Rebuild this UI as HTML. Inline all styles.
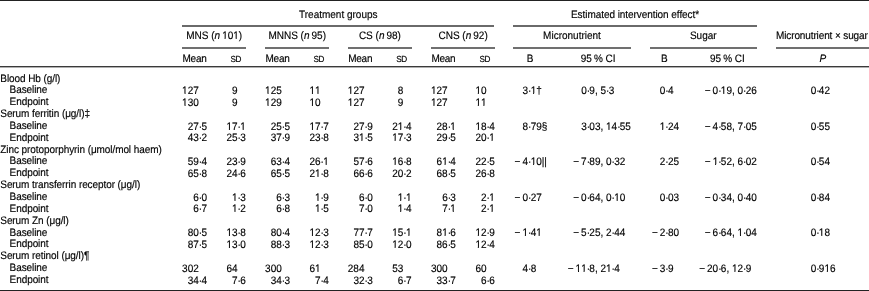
<!DOCTYPE html>
<html><head><meta charset="utf-8">
<style>
html,body{margin:0;padding:0;background:#fff;}
body{width:869px;height:291px;position:relative;overflow:hidden;}
.t{position:absolute;font-family:"Liberation Sans",sans-serif;font-size:10.0px;line-height:12px;color:#000;white-space:nowrap;text-rendering:geometricPrecision;-webkit-text-stroke:0.15px #000;}
.r{position:absolute;}
#c{position:absolute;left:0;top:0;width:869px;height:291px;will-change:transform;}
i{font-style:italic;}
.d{letter-spacing:-0.7px;}
.o{display:inline-block;clip-path:polygon(0 0,100% 0,100% 7.20px,3.45px 7.20px,3.45px 100%,2.45px 100%,2.45px 7.20px,0 7.20px);}
</style></head><body>
<div id="c">
<div class="r" style="left:0px;width:869px;top:0px;height:1px;background:#222"></div>
<div class="r" style="left:182px;width:312px;top:25px;height:2px;background:#6a6a6a"></div>
<div class="r" style="left:513px;width:244px;top:25px;height:2px;background:#6a6a6a"></div>
<div class="r" style="left:182px;width:64px;top:47px;height:2px;background:#707070"></div>
<div class="r" style="left:265px;width:64px;top:47px;height:2px;background:#707070"></div>
<div class="r" style="left:348px;width:64px;top:47px;height:2px;background:#707070"></div>
<div class="r" style="left:431px;width:64px;top:47px;height:2px;background:#707070"></div>
<div class="r" style="left:513px;width:118px;top:47px;height:2px;background:#707070"></div>
<div class="r" style="left:650px;width:107px;top:47px;height:2px;background:#707070"></div>
<div class="r" style="left:776px;width:93px;top:47px;height:2px;background:#707070"></div>
<div class="r" style="left:0px;width:869px;top:66px;height:1px;background:#3a3a3a"></div>
<div class="r" style="left:0px;width:869px;top:67px;height:1px;background:#b0b0b0"></div>
<div class="r" style="left:0px;width:869px;top:290px;height:1px;background:#222"></div>
<div class="t" style="left:299.00px;top:9.54px;transform:scaleY(1.08);transform-origin:0 9.46px;">Treatment groups</div>
<div class="t" style="left:571.00px;top:9.54px;transform:scaleY(1.08);transform-origin:0 9.46px;letter-spacing:-0.06px;">Estimated intervention effect*</div>
<div class="t" style="left:114.20px;width:200px;text-align:center;top:31.14px;transform:scaleY(1.08);transform-origin:0 9.46px;">MNS (<i>n</i> <span class="o">1</span>0<span class="o">1</span>)</div>
<div class="t" style="left:182.50px;top:53.53px;transform:scaleY(1.08);transform-origin:0 9.46px;letter-spacing:-0.25px;">Mean</div>
<div class="t" style="left:230.60px;top:54.06px;font-size:8.20px;transform:scaleY(1.08);transform-origin:0 8.84px;letter-spacing:-0.45px;">SD</div>
<div class="t" style="left:197.20px;width:200px;text-align:center;top:31.14px;transform:scaleY(1.08);transform-origin:0 9.46px;">MNNS (<i>n</i> 95)</div>
<div class="t" style="left:265.50px;top:53.53px;transform:scaleY(1.08);transform-origin:0 9.46px;letter-spacing:-0.25px;">Mean</div>
<div class="t" style="left:313.60px;top:54.06px;font-size:8.20px;transform:scaleY(1.08);transform-origin:0 8.84px;letter-spacing:-0.45px;">SD</div>
<div class="t" style="left:279.90px;width:200px;text-align:center;top:31.14px;transform:scaleY(1.08);transform-origin:0 9.46px;">CS (<i>n</i> 98)</div>
<div class="t" style="left:348.20px;top:53.53px;transform:scaleY(1.08);transform-origin:0 9.46px;letter-spacing:-0.25px;">Mean</div>
<div class="t" style="left:396.30px;top:54.06px;font-size:8.20px;transform:scaleY(1.08);transform-origin:0 8.84px;letter-spacing:-0.45px;">SD</div>
<div class="t" style="left:363.10px;width:200px;text-align:center;top:31.14px;transform:scaleY(1.08);transform-origin:0 9.46px;">CNS (<i>n</i> 92)</div>
<div class="t" style="left:431.40px;top:53.53px;transform:scaleY(1.08);transform-origin:0 9.46px;letter-spacing:-0.25px;">Mean</div>
<div class="t" style="left:479.50px;top:54.06px;font-size:8.20px;transform:scaleY(1.08);transform-origin:0 8.84px;letter-spacing:-0.45px;">SD</div>
<div class="t" style="left:472.00px;width:200px;text-align:center;top:31.14px;transform:scaleY(1.08);transform-origin:0 9.46px;">Micronutrient</div>
<div class="t" style="left:603.30px;width:200px;text-align:center;top:31.14px;transform:scaleY(1.08);transform-origin:0 9.46px;">Sugar</div>
<div class="t" style="left:776.00px;top:31.14px;transform:scaleY(1.08);transform-origin:0 9.46px;letter-spacing:-0.12px;">Micronutrient × sugar</div>
<div class="t" style="left:526.80px;top:53.53px;transform:scaleY(1.08);transform-origin:0 9.46px;">B</div>
<div class="t" style="left:580.80px;top:53.53px;transform:scaleY(1.08);transform-origin:0 9.46px;">95 % CI</div>
<div class="t" style="left:661.00px;top:53.53px;transform:scaleY(1.08);transform-origin:0 9.46px;">B</div>
<div class="t" style="left:710.00px;top:53.53px;transform:scaleY(1.08);transform-origin:0 9.46px;">95 % CI</div>
<div class="t" style="left:819.50px;top:53.53px;transform:scaleY(1.08);transform-origin:0 9.46px;"><i>P</i></div>
<div class="t" style="left:0.30px;top:73.53px;transform:scaleY(1.08);transform-origin:0 9.46px;letter-spacing:-0.08px;">Blood Hb (g/l)</div>
<div class="t" style="left:9.60px;top:85.38px;transform:scaleY(1.08);transform-origin:0 9.46px;letter-spacing:-0.08px;">Baseline</div>
<div class="t" style="left:138.80px;width:60px;text-align:right;top:85.98px;transform:scaleY(1.08);transform-origin:0 9.46px;"><span class="o">1</span>27</div>
<div class="t" style="left:177.60px;width:60px;text-align:right;top:85.98px;transform:scaleY(1.08);transform-origin:0 9.46px;">9</div>
<div class="t" style="left:221.80px;width:60px;text-align:right;top:85.98px;transform:scaleY(1.08);transform-origin:0 9.46px;"><span class="o">1</span>25</div>
<div class="t" style="left:260.60px;width:60px;text-align:right;top:85.98px;transform:scaleY(1.08);transform-origin:0 9.46px;"><span class="o">1</span><span class="o">1</span></div>
<div class="t" style="left:304.50px;width:60px;text-align:right;top:85.98px;transform:scaleY(1.08);transform-origin:0 9.46px;"><span class="o">1</span>27</div>
<div class="t" style="left:343.30px;width:60px;text-align:right;top:85.98px;transform:scaleY(1.08);transform-origin:0 9.46px;">8</div>
<div class="t" style="left:387.70px;width:60px;text-align:right;top:85.98px;transform:scaleY(1.08);transform-origin:0 9.46px;"><span class="o">1</span>27</div>
<div class="t" style="left:426.50px;width:60px;text-align:right;top:85.98px;transform:scaleY(1.08);transform-origin:0 9.46px;"><span class="o">1</span>0</div>
<div class="t" style="left:468.00px;width:60px;text-align:right;top:85.98px;transform:scaleY(1.08);transform-origin:0 9.46px;">3</div>
<div class="t" style="left:528.00px;top:85.98px;transform:scaleY(1.08);transform-origin:0 9.46px;"><span class="d">·</span><span class="o">1</span>†</div>
<div class="t" style="left:526.70px;width:60px;text-align:right;top:85.98px;transform:scaleY(1.08);transform-origin:0 9.46px;">0</div>
<div class="t" style="left:586.70px;top:85.98px;transform:scaleY(1.08);transform-origin:0 9.46px;"><span class="d">·</span>9, 5<span class="d">·</span>3</div>
<div class="t" style="left:605.30px;width:60px;text-align:right;top:85.98px;transform:scaleY(1.08);transform-origin:0 9.46px;">0</div>
<div class="t" style="left:665.30px;top:85.98px;transform:scaleY(1.08);transform-origin:0 9.46px;"><span class="d">·</span>4</div>
<div class="t" style="left:658.20px;width:60px;text-align:right;top:85.98px;transform:scaleY(1.08);transform-origin:0 9.46px;">− 0</div>
<div class="t" style="left:718.20px;top:85.98px;transform:scaleY(1.08);transform-origin:0 9.46px;"><span class="d">·</span><span class="o">1</span>9, 0<span class="d">·</span>26</div>
<div class="t" style="left:756.20px;width:60px;text-align:right;top:85.98px;transform:scaleY(1.08);transform-origin:0 9.46px;">0</div>
<div class="t" style="left:816.20px;top:85.98px;transform:scaleY(1.08);transform-origin:0 9.46px;"><span class="d">·</span>42</div>
<div class="t" style="left:9.60px;top:97.23px;transform:scaleY(1.08);transform-origin:0 9.46px;letter-spacing:-0.08px;">Endpoint</div>
<div class="t" style="left:138.80px;width:60px;text-align:right;top:97.83px;transform:scaleY(1.08);transform-origin:0 9.46px;"><span class="o">1</span>30</div>
<div class="t" style="left:177.60px;width:60px;text-align:right;top:97.83px;transform:scaleY(1.08);transform-origin:0 9.46px;">9</div>
<div class="t" style="left:221.80px;width:60px;text-align:right;top:97.83px;transform:scaleY(1.08);transform-origin:0 9.46px;"><span class="o">1</span>29</div>
<div class="t" style="left:260.60px;width:60px;text-align:right;top:97.83px;transform:scaleY(1.08);transform-origin:0 9.46px;"><span class="o">1</span>0</div>
<div class="t" style="left:304.50px;width:60px;text-align:right;top:97.83px;transform:scaleY(1.08);transform-origin:0 9.46px;"><span class="o">1</span>27</div>
<div class="t" style="left:343.30px;width:60px;text-align:right;top:97.83px;transform:scaleY(1.08);transform-origin:0 9.46px;">9</div>
<div class="t" style="left:387.70px;width:60px;text-align:right;top:97.83px;transform:scaleY(1.08);transform-origin:0 9.46px;"><span class="o">1</span>27</div>
<div class="t" style="left:426.50px;width:60px;text-align:right;top:97.83px;transform:scaleY(1.08);transform-origin:0 9.46px;"><span class="o">1</span><span class="o">1</span></div>
<div class="t" style="left:0.30px;top:109.08px;transform:scaleY(1.08);transform-origin:0 9.46px;letter-spacing:-0.08px;">Serum ferritin (μg/l)‡</div>
<div class="t" style="left:9.60px;top:120.94px;transform:scaleY(1.08);transform-origin:0 9.46px;letter-spacing:-0.08px;">Baseline</div>
<div class="t" style="left:138.80px;width:60px;text-align:right;top:121.53px;transform:scaleY(1.08);transform-origin:0 9.46px;">27</div>
<div class="t" style="left:198.80px;top:121.53px;transform:scaleY(1.08);transform-origin:0 9.46px;"><span class="d">·</span>5</div>
<div class="t" style="left:177.60px;width:60px;text-align:right;top:121.53px;transform:scaleY(1.08);transform-origin:0 9.46px;"><span class="o">1</span>7</div>
<div class="t" style="left:237.60px;top:121.53px;transform:scaleY(1.08);transform-origin:0 9.46px;"><span class="d">·</span><span class="o">1</span></div>
<div class="t" style="left:221.80px;width:60px;text-align:right;top:121.53px;transform:scaleY(1.08);transform-origin:0 9.46px;">25</div>
<div class="t" style="left:281.80px;top:121.53px;transform:scaleY(1.08);transform-origin:0 9.46px;"><span class="d">·</span>5</div>
<div class="t" style="left:260.60px;width:60px;text-align:right;top:121.53px;transform:scaleY(1.08);transform-origin:0 9.46px;"><span class="o">1</span>7</div>
<div class="t" style="left:320.60px;top:121.53px;transform:scaleY(1.08);transform-origin:0 9.46px;"><span class="d">·</span>7</div>
<div class="t" style="left:304.50px;width:60px;text-align:right;top:121.53px;transform:scaleY(1.08);transform-origin:0 9.46px;">27</div>
<div class="t" style="left:364.50px;top:121.53px;transform:scaleY(1.08);transform-origin:0 9.46px;"><span class="d">·</span>9</div>
<div class="t" style="left:343.30px;width:60px;text-align:right;top:121.53px;transform:scaleY(1.08);transform-origin:0 9.46px;">2<span class="o">1</span></div>
<div class="t" style="left:403.30px;top:121.53px;transform:scaleY(1.08);transform-origin:0 9.46px;"><span class="d">·</span>4</div>
<div class="t" style="left:387.70px;width:60px;text-align:right;top:121.53px;transform:scaleY(1.08);transform-origin:0 9.46px;">28</div>
<div class="t" style="left:447.70px;top:121.53px;transform:scaleY(1.08);transform-origin:0 9.46px;"><span class="d">·</span><span class="o">1</span></div>
<div class="t" style="left:426.50px;width:60px;text-align:right;top:121.53px;transform:scaleY(1.08);transform-origin:0 9.46px;"><span class="o">1</span>8</div>
<div class="t" style="left:486.50px;top:121.53px;transform:scaleY(1.08);transform-origin:0 9.46px;"><span class="d">·</span>4</div>
<div class="t" style="left:468.00px;width:60px;text-align:right;top:121.53px;transform:scaleY(1.08);transform-origin:0 9.46px;">8</div>
<div class="t" style="left:528.00px;top:121.53px;transform:scaleY(1.08);transform-origin:0 9.46px;"><span class="d">·</span>79§</div>
<div class="t" style="left:526.70px;width:60px;text-align:right;top:121.53px;transform:scaleY(1.08);transform-origin:0 9.46px;">3</div>
<div class="t" style="left:586.70px;top:121.53px;transform:scaleY(1.08);transform-origin:0 9.46px;"><span class="d">·</span>03, <span class="o">1</span>4<span class="d">·</span>55</div>
<div class="t" style="left:605.30px;width:60px;text-align:right;top:121.53px;transform:scaleY(1.08);transform-origin:0 9.46px;"><span class="o">1</span></div>
<div class="t" style="left:665.30px;top:121.53px;transform:scaleY(1.08);transform-origin:0 9.46px;"><span class="d">·</span>24</div>
<div class="t" style="left:658.20px;width:60px;text-align:right;top:121.53px;transform:scaleY(1.08);transform-origin:0 9.46px;">− 4</div>
<div class="t" style="left:718.20px;top:121.53px;transform:scaleY(1.08);transform-origin:0 9.46px;"><span class="d">·</span>58, 7<span class="d">·</span>05</div>
<div class="t" style="left:756.20px;width:60px;text-align:right;top:121.53px;transform:scaleY(1.08);transform-origin:0 9.46px;">0</div>
<div class="t" style="left:816.20px;top:121.53px;transform:scaleY(1.08);transform-origin:0 9.46px;"><span class="d">·</span>55</div>
<div class="t" style="left:9.60px;top:132.78px;transform:scaleY(1.08);transform-origin:0 9.46px;letter-spacing:-0.08px;">Endpoint</div>
<div class="t" style="left:138.80px;width:60px;text-align:right;top:133.38px;transform:scaleY(1.08);transform-origin:0 9.46px;">43</div>
<div class="t" style="left:198.80px;top:133.38px;transform:scaleY(1.08);transform-origin:0 9.46px;"><span class="d">·</span>2</div>
<div class="t" style="left:177.60px;width:60px;text-align:right;top:133.38px;transform:scaleY(1.08);transform-origin:0 9.46px;">25</div>
<div class="t" style="left:237.60px;top:133.38px;transform:scaleY(1.08);transform-origin:0 9.46px;"><span class="d">·</span>3</div>
<div class="t" style="left:221.80px;width:60px;text-align:right;top:133.38px;transform:scaleY(1.08);transform-origin:0 9.46px;">37</div>
<div class="t" style="left:281.80px;top:133.38px;transform:scaleY(1.08);transform-origin:0 9.46px;"><span class="d">·</span>9</div>
<div class="t" style="left:260.60px;width:60px;text-align:right;top:133.38px;transform:scaleY(1.08);transform-origin:0 9.46px;">23</div>
<div class="t" style="left:320.60px;top:133.38px;transform:scaleY(1.08);transform-origin:0 9.46px;"><span class="d">·</span>8</div>
<div class="t" style="left:304.50px;width:60px;text-align:right;top:133.38px;transform:scaleY(1.08);transform-origin:0 9.46px;">3<span class="o">1</span></div>
<div class="t" style="left:364.50px;top:133.38px;transform:scaleY(1.08);transform-origin:0 9.46px;"><span class="d">·</span>5</div>
<div class="t" style="left:343.30px;width:60px;text-align:right;top:133.38px;transform:scaleY(1.08);transform-origin:0 9.46px;"><span class="o">1</span>7</div>
<div class="t" style="left:403.30px;top:133.38px;transform:scaleY(1.08);transform-origin:0 9.46px;"><span class="d">·</span>3</div>
<div class="t" style="left:387.70px;width:60px;text-align:right;top:133.38px;transform:scaleY(1.08);transform-origin:0 9.46px;">29</div>
<div class="t" style="left:447.70px;top:133.38px;transform:scaleY(1.08);transform-origin:0 9.46px;"><span class="d">·</span>5</div>
<div class="t" style="left:426.50px;width:60px;text-align:right;top:133.38px;transform:scaleY(1.08);transform-origin:0 9.46px;">20</div>
<div class="t" style="left:486.50px;top:133.38px;transform:scaleY(1.08);transform-origin:0 9.46px;"><span class="d">·</span><span class="o">1</span></div>
<div class="t" style="left:0.30px;top:144.63px;transform:scaleY(1.08);transform-origin:0 9.46px;letter-spacing:-0.08px;">Zinc protoporphyrin (μmol/mol haem)</div>
<div class="t" style="left:9.60px;top:156.48px;transform:scaleY(1.08);transform-origin:0 9.46px;letter-spacing:-0.08px;">Baseline</div>
<div class="t" style="left:138.80px;width:60px;text-align:right;top:157.08px;transform:scaleY(1.08);transform-origin:0 9.46px;">59</div>
<div class="t" style="left:198.80px;top:157.08px;transform:scaleY(1.08);transform-origin:0 9.46px;"><span class="d">·</span>4</div>
<div class="t" style="left:177.60px;width:60px;text-align:right;top:157.08px;transform:scaleY(1.08);transform-origin:0 9.46px;">23</div>
<div class="t" style="left:237.60px;top:157.08px;transform:scaleY(1.08);transform-origin:0 9.46px;"><span class="d">·</span>9</div>
<div class="t" style="left:221.80px;width:60px;text-align:right;top:157.08px;transform:scaleY(1.08);transform-origin:0 9.46px;">63</div>
<div class="t" style="left:281.80px;top:157.08px;transform:scaleY(1.08);transform-origin:0 9.46px;"><span class="d">·</span>4</div>
<div class="t" style="left:260.60px;width:60px;text-align:right;top:157.08px;transform:scaleY(1.08);transform-origin:0 9.46px;">26</div>
<div class="t" style="left:320.60px;top:157.08px;transform:scaleY(1.08);transform-origin:0 9.46px;"><span class="d">·</span><span class="o">1</span></div>
<div class="t" style="left:304.50px;width:60px;text-align:right;top:157.08px;transform:scaleY(1.08);transform-origin:0 9.46px;">57</div>
<div class="t" style="left:364.50px;top:157.08px;transform:scaleY(1.08);transform-origin:0 9.46px;"><span class="d">·</span>6</div>
<div class="t" style="left:343.30px;width:60px;text-align:right;top:157.08px;transform:scaleY(1.08);transform-origin:0 9.46px;"><span class="o">1</span>6</div>
<div class="t" style="left:403.30px;top:157.08px;transform:scaleY(1.08);transform-origin:0 9.46px;"><span class="d">·</span>8</div>
<div class="t" style="left:387.70px;width:60px;text-align:right;top:157.08px;transform:scaleY(1.08);transform-origin:0 9.46px;">6<span class="o">1</span></div>
<div class="t" style="left:447.70px;top:157.08px;transform:scaleY(1.08);transform-origin:0 9.46px;"><span class="d">·</span>4</div>
<div class="t" style="left:426.50px;width:60px;text-align:right;top:157.08px;transform:scaleY(1.08);transform-origin:0 9.46px;">22</div>
<div class="t" style="left:486.50px;top:157.08px;transform:scaleY(1.08);transform-origin:0 9.46px;"><span class="d">·</span>5</div>
<div class="t" style="left:468.00px;width:60px;text-align:right;top:157.08px;transform:scaleY(1.08);transform-origin:0 9.46px;">− 4</div>
<div class="t" style="left:528.00px;top:157.08px;transform:scaleY(1.08);transform-origin:0 9.46px;"><span class="d">·</span><span class="o">1</span>0||</div>
<div class="t" style="left:526.70px;width:60px;text-align:right;top:157.08px;transform:scaleY(1.08);transform-origin:0 9.46px;">− 7</div>
<div class="t" style="left:586.70px;top:157.08px;transform:scaleY(1.08);transform-origin:0 9.46px;"><span class="d">·</span>89, 0<span class="d">·</span>32</div>
<div class="t" style="left:605.30px;width:60px;text-align:right;top:157.08px;transform:scaleY(1.08);transform-origin:0 9.46px;">2</div>
<div class="t" style="left:665.30px;top:157.08px;transform:scaleY(1.08);transform-origin:0 9.46px;"><span class="d">·</span>25</div>
<div class="t" style="left:658.20px;width:60px;text-align:right;top:157.08px;transform:scaleY(1.08);transform-origin:0 9.46px;">− <span class="o">1</span></div>
<div class="t" style="left:718.20px;top:157.08px;transform:scaleY(1.08);transform-origin:0 9.46px;"><span class="d">·</span>52, 6<span class="d">·</span>02</div>
<div class="t" style="left:756.20px;width:60px;text-align:right;top:157.08px;transform:scaleY(1.08);transform-origin:0 9.46px;">0</div>
<div class="t" style="left:816.20px;top:157.08px;transform:scaleY(1.08);transform-origin:0 9.46px;"><span class="d">·</span>54</div>
<div class="t" style="left:9.60px;top:168.34px;transform:scaleY(1.08);transform-origin:0 9.46px;letter-spacing:-0.08px;">Endpoint</div>
<div class="t" style="left:138.80px;width:60px;text-align:right;top:168.94px;transform:scaleY(1.08);transform-origin:0 9.46px;">65</div>
<div class="t" style="left:198.80px;top:168.94px;transform:scaleY(1.08);transform-origin:0 9.46px;"><span class="d">·</span>8</div>
<div class="t" style="left:177.60px;width:60px;text-align:right;top:168.94px;transform:scaleY(1.08);transform-origin:0 9.46px;">24</div>
<div class="t" style="left:237.60px;top:168.94px;transform:scaleY(1.08);transform-origin:0 9.46px;"><span class="d">·</span>6</div>
<div class="t" style="left:221.80px;width:60px;text-align:right;top:168.94px;transform:scaleY(1.08);transform-origin:0 9.46px;">65</div>
<div class="t" style="left:281.80px;top:168.94px;transform:scaleY(1.08);transform-origin:0 9.46px;"><span class="d">·</span>5</div>
<div class="t" style="left:260.60px;width:60px;text-align:right;top:168.94px;transform:scaleY(1.08);transform-origin:0 9.46px;">2<span class="o">1</span></div>
<div class="t" style="left:320.60px;top:168.94px;transform:scaleY(1.08);transform-origin:0 9.46px;"><span class="d">·</span>8</div>
<div class="t" style="left:304.50px;width:60px;text-align:right;top:168.94px;transform:scaleY(1.08);transform-origin:0 9.46px;">66</div>
<div class="t" style="left:364.50px;top:168.94px;transform:scaleY(1.08);transform-origin:0 9.46px;"><span class="d">·</span>6</div>
<div class="t" style="left:343.30px;width:60px;text-align:right;top:168.94px;transform:scaleY(1.08);transform-origin:0 9.46px;">20</div>
<div class="t" style="left:403.30px;top:168.94px;transform:scaleY(1.08);transform-origin:0 9.46px;"><span class="d">·</span>2</div>
<div class="t" style="left:387.70px;width:60px;text-align:right;top:168.94px;transform:scaleY(1.08);transform-origin:0 9.46px;">68</div>
<div class="t" style="left:447.70px;top:168.94px;transform:scaleY(1.08);transform-origin:0 9.46px;"><span class="d">·</span>5</div>
<div class="t" style="left:426.50px;width:60px;text-align:right;top:168.94px;transform:scaleY(1.08);transform-origin:0 9.46px;">26</div>
<div class="t" style="left:486.50px;top:168.94px;transform:scaleY(1.08);transform-origin:0 9.46px;"><span class="d">·</span>8</div>
<div class="t" style="left:0.30px;top:180.18px;transform:scaleY(1.08);transform-origin:0 9.46px;letter-spacing:-0.08px;">Serum transferrin receptor (μg/l)</div>
<div class="t" style="left:9.60px;top:192.03px;transform:scaleY(1.08);transform-origin:0 9.46px;letter-spacing:-0.08px;">Baseline</div>
<div class="t" style="left:138.80px;width:60px;text-align:right;top:192.63px;transform:scaleY(1.08);transform-origin:0 9.46px;">6</div>
<div class="t" style="left:198.80px;top:192.63px;transform:scaleY(1.08);transform-origin:0 9.46px;"><span class="d">·</span>0</div>
<div class="t" style="left:177.60px;width:60px;text-align:right;top:192.63px;transform:scaleY(1.08);transform-origin:0 9.46px;"><span class="o">1</span></div>
<div class="t" style="left:237.60px;top:192.63px;transform:scaleY(1.08);transform-origin:0 9.46px;"><span class="d">·</span>3</div>
<div class="t" style="left:221.80px;width:60px;text-align:right;top:192.63px;transform:scaleY(1.08);transform-origin:0 9.46px;">6</div>
<div class="t" style="left:281.80px;top:192.63px;transform:scaleY(1.08);transform-origin:0 9.46px;"><span class="d">·</span>3</div>
<div class="t" style="left:260.60px;width:60px;text-align:right;top:192.63px;transform:scaleY(1.08);transform-origin:0 9.46px;"><span class="o">1</span></div>
<div class="t" style="left:320.60px;top:192.63px;transform:scaleY(1.08);transform-origin:0 9.46px;"><span class="d">·</span>9</div>
<div class="t" style="left:304.50px;width:60px;text-align:right;top:192.63px;transform:scaleY(1.08);transform-origin:0 9.46px;">6</div>
<div class="t" style="left:364.50px;top:192.63px;transform:scaleY(1.08);transform-origin:0 9.46px;"><span class="d">·</span>0</div>
<div class="t" style="left:343.30px;width:60px;text-align:right;top:192.63px;transform:scaleY(1.08);transform-origin:0 9.46px;"><span class="o">1</span></div>
<div class="t" style="left:403.30px;top:192.63px;transform:scaleY(1.08);transform-origin:0 9.46px;"><span class="d">·</span><span class="o">1</span></div>
<div class="t" style="left:387.70px;width:60px;text-align:right;top:192.63px;transform:scaleY(1.08);transform-origin:0 9.46px;">6</div>
<div class="t" style="left:447.70px;top:192.63px;transform:scaleY(1.08);transform-origin:0 9.46px;"><span class="d">·</span>3</div>
<div class="t" style="left:426.50px;width:60px;text-align:right;top:192.63px;transform:scaleY(1.08);transform-origin:0 9.46px;">2</div>
<div class="t" style="left:486.50px;top:192.63px;transform:scaleY(1.08);transform-origin:0 9.46px;"><span class="d">·</span><span class="o">1</span></div>
<div class="t" style="left:468.00px;width:60px;text-align:right;top:192.63px;transform:scaleY(1.08);transform-origin:0 9.46px;">− 0</div>
<div class="t" style="left:528.00px;top:192.63px;transform:scaleY(1.08);transform-origin:0 9.46px;"><span class="d">·</span>27</div>
<div class="t" style="left:526.70px;width:60px;text-align:right;top:192.63px;transform:scaleY(1.08);transform-origin:0 9.46px;">− 0</div>
<div class="t" style="left:586.70px;top:192.63px;transform:scaleY(1.08);transform-origin:0 9.46px;"><span class="d">·</span>64, 0<span class="d">·</span><span class="o">1</span>0</div>
<div class="t" style="left:605.30px;width:60px;text-align:right;top:192.63px;transform:scaleY(1.08);transform-origin:0 9.46px;">0</div>
<div class="t" style="left:665.30px;top:192.63px;transform:scaleY(1.08);transform-origin:0 9.46px;"><span class="d">·</span>03</div>
<div class="t" style="left:658.20px;width:60px;text-align:right;top:192.63px;transform:scaleY(1.08);transform-origin:0 9.46px;">− 0</div>
<div class="t" style="left:718.20px;top:192.63px;transform:scaleY(1.08);transform-origin:0 9.46px;"><span class="d">·</span>34, 0<span class="d">·</span>40</div>
<div class="t" style="left:756.20px;width:60px;text-align:right;top:192.63px;transform:scaleY(1.08);transform-origin:0 9.46px;">0</div>
<div class="t" style="left:816.20px;top:192.63px;transform:scaleY(1.08);transform-origin:0 9.46px;"><span class="d">·</span>84</div>
<div class="t" style="left:9.60px;top:203.88px;transform:scaleY(1.08);transform-origin:0 9.46px;letter-spacing:-0.08px;">Endpoint</div>
<div class="t" style="left:138.80px;width:60px;text-align:right;top:204.48px;transform:scaleY(1.08);transform-origin:0 9.46px;">6</div>
<div class="t" style="left:198.80px;top:204.48px;transform:scaleY(1.08);transform-origin:0 9.46px;"><span class="d">·</span>7</div>
<div class="t" style="left:177.60px;width:60px;text-align:right;top:204.48px;transform:scaleY(1.08);transform-origin:0 9.46px;"><span class="o">1</span></div>
<div class="t" style="left:237.60px;top:204.48px;transform:scaleY(1.08);transform-origin:0 9.46px;"><span class="d">·</span>2</div>
<div class="t" style="left:221.80px;width:60px;text-align:right;top:204.48px;transform:scaleY(1.08);transform-origin:0 9.46px;">6</div>
<div class="t" style="left:281.80px;top:204.48px;transform:scaleY(1.08);transform-origin:0 9.46px;"><span class="d">·</span>8</div>
<div class="t" style="left:260.60px;width:60px;text-align:right;top:204.48px;transform:scaleY(1.08);transform-origin:0 9.46px;"><span class="o">1</span></div>
<div class="t" style="left:320.60px;top:204.48px;transform:scaleY(1.08);transform-origin:0 9.46px;"><span class="d">·</span>5</div>
<div class="t" style="left:304.50px;width:60px;text-align:right;top:204.48px;transform:scaleY(1.08);transform-origin:0 9.46px;">7</div>
<div class="t" style="left:364.50px;top:204.48px;transform:scaleY(1.08);transform-origin:0 9.46px;"><span class="d">·</span>0</div>
<div class="t" style="left:343.30px;width:60px;text-align:right;top:204.48px;transform:scaleY(1.08);transform-origin:0 9.46px;"><span class="o">1</span></div>
<div class="t" style="left:403.30px;top:204.48px;transform:scaleY(1.08);transform-origin:0 9.46px;"><span class="d">·</span>4</div>
<div class="t" style="left:387.70px;width:60px;text-align:right;top:204.48px;transform:scaleY(1.08);transform-origin:0 9.46px;">7</div>
<div class="t" style="left:447.70px;top:204.48px;transform:scaleY(1.08);transform-origin:0 9.46px;"><span class="d">·</span><span class="o">1</span></div>
<div class="t" style="left:426.50px;width:60px;text-align:right;top:204.48px;transform:scaleY(1.08);transform-origin:0 9.46px;">2</div>
<div class="t" style="left:486.50px;top:204.48px;transform:scaleY(1.08);transform-origin:0 9.46px;"><span class="d">·</span><span class="o">1</span></div>
<div class="t" style="left:0.30px;top:215.73px;transform:scaleY(1.08);transform-origin:0 9.46px;letter-spacing:-0.08px;">Serum Zn (μg/l)</div>
<div class="t" style="left:9.60px;top:227.58px;transform:scaleY(1.08);transform-origin:0 9.46px;letter-spacing:-0.08px;">Baseline</div>
<div class="t" style="left:138.80px;width:60px;text-align:right;top:228.18px;transform:scaleY(1.08);transform-origin:0 9.46px;">80</div>
<div class="t" style="left:198.80px;top:228.18px;transform:scaleY(1.08);transform-origin:0 9.46px;"><span class="d">·</span>5</div>
<div class="t" style="left:177.60px;width:60px;text-align:right;top:228.18px;transform:scaleY(1.08);transform-origin:0 9.46px;"><span class="o">1</span>3</div>
<div class="t" style="left:237.60px;top:228.18px;transform:scaleY(1.08);transform-origin:0 9.46px;"><span class="d">·</span>8</div>
<div class="t" style="left:221.80px;width:60px;text-align:right;top:228.18px;transform:scaleY(1.08);transform-origin:0 9.46px;">80</div>
<div class="t" style="left:281.80px;top:228.18px;transform:scaleY(1.08);transform-origin:0 9.46px;"><span class="d">·</span>4</div>
<div class="t" style="left:260.60px;width:60px;text-align:right;top:228.18px;transform:scaleY(1.08);transform-origin:0 9.46px;"><span class="o">1</span>2</div>
<div class="t" style="left:320.60px;top:228.18px;transform:scaleY(1.08);transform-origin:0 9.46px;"><span class="d">·</span>3</div>
<div class="t" style="left:304.50px;width:60px;text-align:right;top:228.18px;transform:scaleY(1.08);transform-origin:0 9.46px;">77</div>
<div class="t" style="left:364.50px;top:228.18px;transform:scaleY(1.08);transform-origin:0 9.46px;"><span class="d">·</span>7</div>
<div class="t" style="left:343.30px;width:60px;text-align:right;top:228.18px;transform:scaleY(1.08);transform-origin:0 9.46px;"><span class="o">1</span>5</div>
<div class="t" style="left:403.30px;top:228.18px;transform:scaleY(1.08);transform-origin:0 9.46px;"><span class="d">·</span><span class="o">1</span></div>
<div class="t" style="left:387.70px;width:60px;text-align:right;top:228.18px;transform:scaleY(1.08);transform-origin:0 9.46px;">8<span class="o">1</span></div>
<div class="t" style="left:447.70px;top:228.18px;transform:scaleY(1.08);transform-origin:0 9.46px;"><span class="d">·</span>6</div>
<div class="t" style="left:426.50px;width:60px;text-align:right;top:228.18px;transform:scaleY(1.08);transform-origin:0 9.46px;"><span class="o">1</span>2</div>
<div class="t" style="left:486.50px;top:228.18px;transform:scaleY(1.08);transform-origin:0 9.46px;"><span class="d">·</span>9</div>
<div class="t" style="left:468.00px;width:60px;text-align:right;top:228.18px;transform:scaleY(1.08);transform-origin:0 9.46px;">− <span class="o">1</span></div>
<div class="t" style="left:528.00px;top:228.18px;transform:scaleY(1.08);transform-origin:0 9.46px;"><span class="d">·</span>4<span class="o">1</span></div>
<div class="t" style="left:526.70px;width:60px;text-align:right;top:228.18px;transform:scaleY(1.08);transform-origin:0 9.46px;">− 5</div>
<div class="t" style="left:586.70px;top:228.18px;transform:scaleY(1.08);transform-origin:0 9.46px;"><span class="d">·</span>25, 2<span class="d">·</span>44</div>
<div class="t" style="left:605.30px;width:60px;text-align:right;top:228.18px;transform:scaleY(1.08);transform-origin:0 9.46px;">− 2</div>
<div class="t" style="left:665.30px;top:228.18px;transform:scaleY(1.08);transform-origin:0 9.46px;"><span class="d">·</span>80</div>
<div class="t" style="left:658.20px;width:60px;text-align:right;top:228.18px;transform:scaleY(1.08);transform-origin:0 9.46px;">− 6</div>
<div class="t" style="left:718.20px;top:228.18px;transform:scaleY(1.08);transform-origin:0 9.46px;"><span class="d">·</span>64, <span class="o">1</span><span class="d">·</span>04</div>
<div class="t" style="left:756.20px;width:60px;text-align:right;top:228.18px;transform:scaleY(1.08);transform-origin:0 9.46px;">0</div>
<div class="t" style="left:816.20px;top:228.18px;transform:scaleY(1.08);transform-origin:0 9.46px;"><span class="d">·</span><span class="o">1</span>8</div>
<div class="t" style="left:9.60px;top:239.44px;transform:scaleY(1.08);transform-origin:0 9.46px;letter-spacing:-0.08px;">Endpoint</div>
<div class="t" style="left:138.80px;width:60px;text-align:right;top:240.03px;transform:scaleY(1.08);transform-origin:0 9.46px;">87</div>
<div class="t" style="left:198.80px;top:240.03px;transform:scaleY(1.08);transform-origin:0 9.46px;"><span class="d">·</span>5</div>
<div class="t" style="left:177.60px;width:60px;text-align:right;top:240.03px;transform:scaleY(1.08);transform-origin:0 9.46px;"><span class="o">1</span>3</div>
<div class="t" style="left:237.60px;top:240.03px;transform:scaleY(1.08);transform-origin:0 9.46px;"><span class="d">·</span>0</div>
<div class="t" style="left:221.80px;width:60px;text-align:right;top:240.03px;transform:scaleY(1.08);transform-origin:0 9.46px;">88</div>
<div class="t" style="left:281.80px;top:240.03px;transform:scaleY(1.08);transform-origin:0 9.46px;"><span class="d">·</span>3</div>
<div class="t" style="left:260.60px;width:60px;text-align:right;top:240.03px;transform:scaleY(1.08);transform-origin:0 9.46px;"><span class="o">1</span>2</div>
<div class="t" style="left:320.60px;top:240.03px;transform:scaleY(1.08);transform-origin:0 9.46px;"><span class="d">·</span>3</div>
<div class="t" style="left:304.50px;width:60px;text-align:right;top:240.03px;transform:scaleY(1.08);transform-origin:0 9.46px;">85</div>
<div class="t" style="left:364.50px;top:240.03px;transform:scaleY(1.08);transform-origin:0 9.46px;"><span class="d">·</span>0</div>
<div class="t" style="left:343.30px;width:60px;text-align:right;top:240.03px;transform:scaleY(1.08);transform-origin:0 9.46px;"><span class="o">1</span>2</div>
<div class="t" style="left:403.30px;top:240.03px;transform:scaleY(1.08);transform-origin:0 9.46px;"><span class="d">·</span>0</div>
<div class="t" style="left:387.70px;width:60px;text-align:right;top:240.03px;transform:scaleY(1.08);transform-origin:0 9.46px;">86</div>
<div class="t" style="left:447.70px;top:240.03px;transform:scaleY(1.08);transform-origin:0 9.46px;"><span class="d">·</span>5</div>
<div class="t" style="left:426.50px;width:60px;text-align:right;top:240.03px;transform:scaleY(1.08);transform-origin:0 9.46px;"><span class="o">1</span>2</div>
<div class="t" style="left:486.50px;top:240.03px;transform:scaleY(1.08);transform-origin:0 9.46px;"><span class="d">·</span>4</div>
<div class="t" style="left:0.30px;top:251.28px;transform:scaleY(1.08);transform-origin:0 9.46px;letter-spacing:-0.08px;">Serum retinol (μg/l)¶</div>
<div class="t" style="left:9.60px;top:263.14px;transform:scaleY(1.08);transform-origin:0 9.46px;letter-spacing:-0.08px;">Baseline</div>
<div class="t" style="left:138.80px;width:60px;text-align:right;top:263.74px;transform:scaleY(1.08);transform-origin:0 9.46px;">302</div>
<div class="t" style="left:177.60px;width:60px;text-align:right;top:263.74px;transform:scaleY(1.08);transform-origin:0 9.46px;">64</div>
<div class="t" style="left:221.80px;width:60px;text-align:right;top:263.74px;transform:scaleY(1.08);transform-origin:0 9.46px;">300</div>
<div class="t" style="left:260.60px;width:60px;text-align:right;top:263.74px;transform:scaleY(1.08);transform-origin:0 9.46px;">6<span class="o">1</span></div>
<div class="t" style="left:304.50px;width:60px;text-align:right;top:263.74px;transform:scaleY(1.08);transform-origin:0 9.46px;">284</div>
<div class="t" style="left:343.30px;width:60px;text-align:right;top:263.74px;transform:scaleY(1.08);transform-origin:0 9.46px;">53</div>
<div class="t" style="left:387.70px;width:60px;text-align:right;top:263.74px;transform:scaleY(1.08);transform-origin:0 9.46px;">300</div>
<div class="t" style="left:426.50px;width:60px;text-align:right;top:263.74px;transform:scaleY(1.08);transform-origin:0 9.46px;">60</div>
<div class="t" style="left:468.00px;width:60px;text-align:right;top:263.74px;transform:scaleY(1.08);transform-origin:0 9.46px;">4</div>
<div class="t" style="left:528.00px;top:263.74px;transform:scaleY(1.08);transform-origin:0 9.46px;"><span class="d">·</span>8</div>
<div class="t" style="left:526.70px;width:60px;text-align:right;top:263.74px;transform:scaleY(1.08);transform-origin:0 9.46px;">− <span class="o">1</span><span class="o">1</span></div>
<div class="t" style="left:586.70px;top:263.74px;transform:scaleY(1.08);transform-origin:0 9.46px;"><span class="d">·</span>8, 2<span class="o">1</span><span class="d">·</span>4</div>
<div class="t" style="left:605.30px;width:60px;text-align:right;top:263.74px;transform:scaleY(1.08);transform-origin:0 9.46px;">− 3</div>
<div class="t" style="left:665.30px;top:263.74px;transform:scaleY(1.08);transform-origin:0 9.46px;"><span class="d">·</span>9</div>
<div class="t" style="left:658.20px;width:60px;text-align:right;top:263.74px;transform:scaleY(1.08);transform-origin:0 9.46px;">− 20</div>
<div class="t" style="left:718.20px;top:263.74px;transform:scaleY(1.08);transform-origin:0 9.46px;"><span class="d">·</span>6, <span class="o">1</span>2<span class="d">·</span>9</div>
<div class="t" style="left:756.20px;width:60px;text-align:right;top:263.74px;transform:scaleY(1.08);transform-origin:0 9.46px;">0</div>
<div class="t" style="left:816.20px;top:263.74px;transform:scaleY(1.08);transform-origin:0 9.46px;"><span class="d">·</span>9<span class="o">1</span>6</div>
<div class="t" style="left:9.60px;top:274.99px;transform:scaleY(1.08);transform-origin:0 9.46px;letter-spacing:-0.08px;">Endpoint</div>
<div class="t" style="left:138.80px;width:60px;text-align:right;top:275.59px;transform:scaleY(1.08);transform-origin:0 9.46px;">34</div>
<div class="t" style="left:198.80px;top:275.59px;transform:scaleY(1.08);transform-origin:0 9.46px;"><span class="d">·</span>4</div>
<div class="t" style="left:177.60px;width:60px;text-align:right;top:275.59px;transform:scaleY(1.08);transform-origin:0 9.46px;">7</div>
<div class="t" style="left:237.60px;top:275.59px;transform:scaleY(1.08);transform-origin:0 9.46px;"><span class="d">·</span>6</div>
<div class="t" style="left:221.80px;width:60px;text-align:right;top:275.59px;transform:scaleY(1.08);transform-origin:0 9.46px;">34</div>
<div class="t" style="left:281.80px;top:275.59px;transform:scaleY(1.08);transform-origin:0 9.46px;"><span class="d">·</span>3</div>
<div class="t" style="left:260.60px;width:60px;text-align:right;top:275.59px;transform:scaleY(1.08);transform-origin:0 9.46px;">7</div>
<div class="t" style="left:320.60px;top:275.59px;transform:scaleY(1.08);transform-origin:0 9.46px;"><span class="d">·</span>4</div>
<div class="t" style="left:304.50px;width:60px;text-align:right;top:275.59px;transform:scaleY(1.08);transform-origin:0 9.46px;">32</div>
<div class="t" style="left:364.50px;top:275.59px;transform:scaleY(1.08);transform-origin:0 9.46px;"><span class="d">·</span>3</div>
<div class="t" style="left:343.30px;width:60px;text-align:right;top:275.59px;transform:scaleY(1.08);transform-origin:0 9.46px;">6</div>
<div class="t" style="left:403.30px;top:275.59px;transform:scaleY(1.08);transform-origin:0 9.46px;"><span class="d">·</span>7</div>
<div class="t" style="left:387.70px;width:60px;text-align:right;top:275.59px;transform:scaleY(1.08);transform-origin:0 9.46px;">33</div>
<div class="t" style="left:447.70px;top:275.59px;transform:scaleY(1.08);transform-origin:0 9.46px;"><span class="d">·</span>7</div>
<div class="t" style="left:426.50px;width:60px;text-align:right;top:275.59px;transform:scaleY(1.08);transform-origin:0 9.46px;">6</div>
<div class="t" style="left:486.50px;top:275.59px;transform:scaleY(1.08);transform-origin:0 9.46px;"><span class="d">·</span>6</div>
</div>
</body></html>
